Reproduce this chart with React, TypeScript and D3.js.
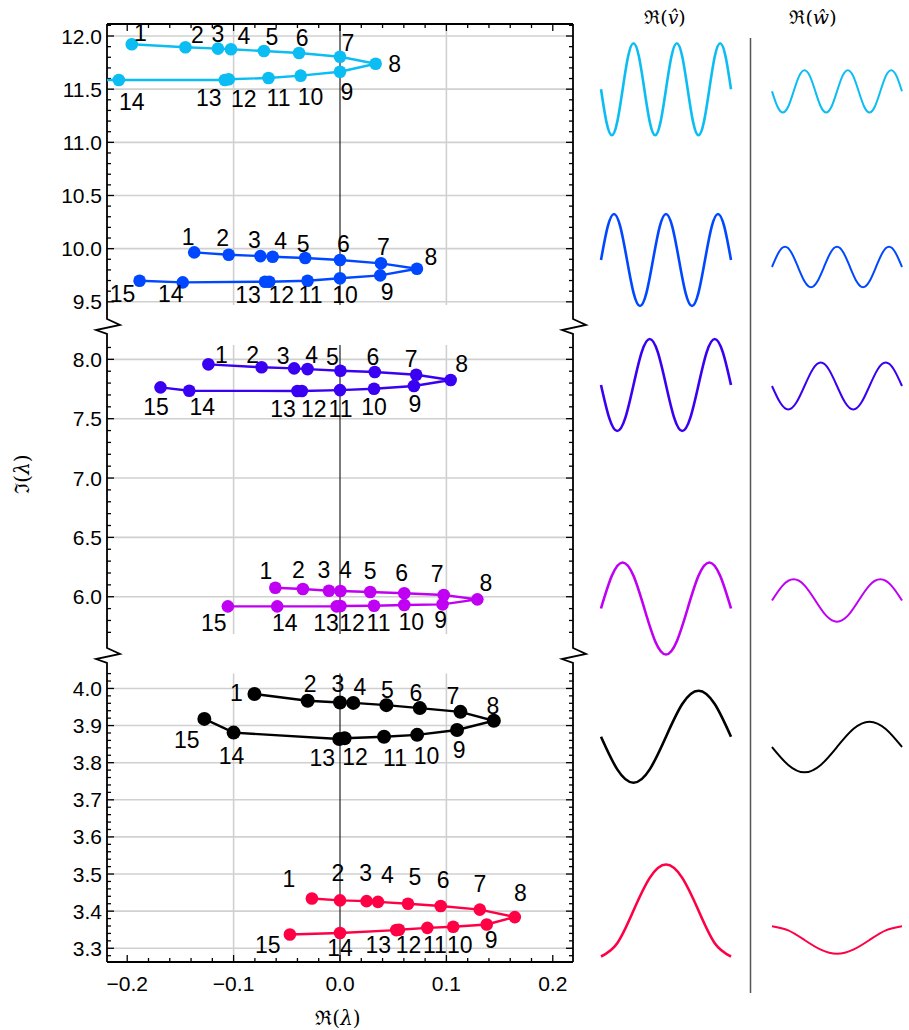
import React from "react";
import * as d3 from "d3";

// ---------------- data ----------------
const pointLabels = d3.range(1, 16).map(String);

const cyanRe = [-0.1957, -0.1453, -0.1147, -0.1025, -0.0715, -0.0385, 0.0, 0.0335, 0.0, -0.037, -0.0672, -0.1046, -0.1083, -0.2079, -0.26];
const cyanIm = [11.922, 11.894, 11.881, 11.875, 11.859, 11.84, 11.805, 11.739, 11.664, 11.627, 11.605, 11.593, 11.586, 11.586, 11.59];
const blueRe = [-0.137, -0.1046, -0.0748, -0.0633, -0.0327, 0.0, 0.0385, 0.0723, 0.0378, 0.0, -0.0305, -0.0665, -0.0705, -0.1478, -0.1884];
const blueIm = [9.965, 9.943, 9.93, 9.924, 9.912, 9.893, 9.862, 9.811, 9.749, 9.721, 9.698, 9.689, 9.689, 9.683, 9.698];
const indigoRe = [-0.1237, -0.0737, -0.0431, -0.0305, 0.0004, 0.0327, 0.0716, 0.104, 0.0695, 0.032, 0.0, -0.0359, -0.04, -0.1417, -0.1687];
const indigoIm = [7.958, 7.933, 7.924, 7.918, 7.904, 7.893, 7.87, 7.826, 7.775, 7.752, 7.741, 7.733, 7.733, 7.736, 7.764];
const purpleRe = [-0.0608, -0.0349, -0.0104, 0.0004, 0.0284, 0.0604, 0.0975, 0.1291, 0.0964, 0.0604, 0.032, 0.0004, -0.0032, -0.059, -0.1054];
const purpleIm = [6.076, 6.065, 6.051, 6.048, 6.04, 6.029, 6.014, 5.978, 5.936, 5.93, 5.924, 5.922, 5.919, 5.919, 5.919];
const blackRe = [-0.0804, -0.0304, 0.0, 0.0125, 0.0436, 0.075, 0.1132, 0.1446, 0.11, 0.0725, 0.0414, 0.0043, -0.0007, -0.1, -0.1275];
const blackIm = [3.985, 3.967, 3.962, 3.961, 3.955, 3.947, 3.937, 3.913, 3.888, 3.875, 3.87, 3.866, 3.864, 3.881, 3.918];
const redRe = [-0.0264, 0.0, 0.025, 0.0357, 0.0639, 0.0946, 0.1314, 0.1643, 0.1379, 0.1064, 0.0821, 0.0554, 0.0529, 0.0, -0.0471];
const redIm = [3.434, 3.429, 3.427, 3.425, 3.42, 3.414, 3.404, 3.384, 3.364, 3.358, 3.355, 3.35, 3.349, 3.341, 3.337];

// eigenfunction profiles (sampled every 1/8 period across the column)
const cyanV = [0, -0.71, -1, -0.71, 0, 0.71, 1, 0.71, 0, -0.71, -1, -0.71, 0, 0.71, 1, 0.71, 0, -0.71, -1, -0.71, 0, 0.71, 1, 0.71, 0];
const cyanW = [0, -0.33, -0.46, -0.33, 0, 0.33, 0.46, 0.33, 0, -0.33, -0.46, -0.33, 0, 0.33, 0.46, 0.33, 0, -0.33, -0.46, -0.33, 0, 0.33, 0.46, 0.33, 0];
const blueV = [0, 0.71, 1, 0.71, 0, -0.71, -1, -0.71, 0, 0.71, 1, 0.71, 0, -0.71, -1, -0.71, 0, 0.71, 1, 0.71, 0];
const blueW = [0, 0.31, 0.44, 0.31, 0, -0.31, -0.44, -0.31, 0, 0.31, 0.44, 0.31, 0, -0.31, -0.44, -0.31, 0, 0.31, 0.44, 0.31, 0];
const indigoV = [0, -0.71, -1, -0.71, 0, 0.71, 1, 0.71, 0, -0.71, -1, -0.71, 0, 0.71, 1, 0.71, 0];
const indigoW = [0, -0.36, -0.51, -0.36, 0, 0.36, 0.51, 0.36, 0, -0.36, -0.51, -0.36, 0, 0.36, 0.51, 0.36, 0];
const purpleV = [0, 0.71, 1, 0.71, 0, -0.71, -1, -0.71, 0, 0.71, 1, 0.71, 0];
const purpleW = [0, 0.33, 0.46, 0.33, 0, -0.33, -0.46, -0.33, 0, 0.33, 0.46, 0.33, 0];
const blackV = [0, -0.71, -1, -0.71, 0, 0.71, 1, 0.71, 0];
const blackW = [0, -0.39, -0.55, -0.39, 0, 0.39, 0.55, 0.39, 0];
const redV = [-1, -0.71, 0, 0.71, 1, 0.71, 0, -0.71, -1];
const redW = [0.3, 0.21, 0, -0.21, -0.3, -0.21, 0, 0.21, 0.3];

const xTicks = [-0.2, -0.1, 0.0, 0.1, 0.2];
const yTicksA = [9.5, 10.0, 10.5, 11.0, 11.5, 12.0];
const yTicksB = [6.0, 6.5, 7.0, 7.5, 8.0];
const yTicksC = [3.3, 3.4, 3.5, 3.6, 3.7, 3.8, 3.9, 4.0];

// ---------------- layout ----------------
const L = 107, R = 573, TOP = 24, BOTTOM = 962;
const x = d3.scaleLinear().domain([-0.219, 0.219]).range([L, R]);

const panels = [
  { key: "A", y: d3.scaleLinear().domain([9.47, 12.113]).range([305, TOP]), major: yTicksA, minorStep: 0.1 },
  { key: "B", y: d3.scaleLinear().domain([5.686, 8.12]).range([634, 345.1]), major: yTicksB, minorStep: 0.1 },
  { key: "C", y: d3.scaleLinear().domain([3.263, 4.04]).range([BOTTOM, 673.6]), major: yTicksC, minorStep: 0.02 },
];
const breaks = [325, 654];

// label offsets (px) relative to each marker
const offCyan = [[8.5, -11], [12, -12], [0, -15], [13, -13], [8, -14], [3, -15], [8, -14], [19, 0], [7, 20], [10, 21], [10, 20], [15, 20], [-16, 18], [13, 22], [-14, 18]];
const offBlue = [[-6, -15], [-6, -17], [-6, -16], [8, -16], [-2, -14], [3.5, -16], [2.5, -16.5], [14, -11.5], [7, 16.5], [5, 16.5], [3, 14.5], [12, 13.5], [-17, 13.5], [-12, 12], [-17, 13.5]];
const offIndigo = [[13, -9], [-9, -12], [-11, -12], [4, -14], [-8, -14], [-2, -15], [-5, -15.5], [11, -16], [1, 18], [0, 18.5], [0.5, 18.5], [12, 17.5], [-14.5, 17.5], [13, 16.5], [-4.5, 19.5]];
const offPurple = [[-9.5, -17], [-4.5, -19.5], [-5, -21], [5, -21], [0, -20.5], [-2.5, -20], [-6.5, -21.5], [8.5, -16.5], [-2, 15.5], [7, 17], [4.5, 17.5], [11.5, 17.5], [-10.5, 17], [7.5, 17], [-14, 17]];
const offBlack = [[-18, -1], [2.5, -16.5], [-2, -18.5], [6.5, -15.5], [1, -15], [-4, -15.5], [-7.5, -16], [-1, -15], [2, 20], [9.5, 21], [11, 21], [10.5, 19], [-17, 19], [-2, 23], [-17.5, 21.5]];
const offRed = [[-23, -20], [-2, -27], [-1, -28], [9.5, -26.5], [7, -26.5], [2.5, -26], [0, -26], [5.5, -24.5], [4.5, 15.5], [6.5, 18], [7.5, 17], [9.5, 15.5], [-18, 15], [0, 14.5], [-22, 10.5]];

const series = [
  { re: cyanRe, im: cyanIm, color: "#0bbdf2", panel: 0, off: offCyan, r: 6.3, v: cyanV, w: cyanW, cv: 89.2, cw: 91.3 },
  { re: blueRe, im: blueIm, color: "#0048ff", panel: 0, off: offBlue, r: 6.3, v: blueV, w: blueW, cv: 260, cw: 267 },
  { re: indigoRe, im: indigoIm, color: "#3a00f2", panel: 1, off: offIndigo, r: 6.3, v: indigoV, w: indigoW, cv: 385, cw: 386 },
  { re: purpleRe, im: purpleIm, color: "#c000f2", panel: 1, off: offPurple, r: 6.3, v: purpleV, w: purpleW, cv: 608.5, cw: 600.5 },
  { re: blackRe, im: blackIm, color: "#000000", panel: 2, off: offBlack, r: 7, v: blackV, w: blackW, cv: 736.7, cw: 747 },
  { re: redRe, im: redIm, color: "#ff0044", panel: 2, off: offRed, r: 6.3, v: redV, w: redW, cv: 910.5, cw: 940 },
];

const waveAmp = 46;
const waveXV = d3.scaleLinear().domain([0, 1]).range([601, 731]);
const waveXW = d3.scaleLinear().domain([0, 1]).range([772, 902]);

const fmt = d3.format(".1f");
const NUM_FONT = "'Liberation Sans', Arial, sans-serif";
const SERIF = "'DejaVu Serif', 'Liberation Serif', serif";

function spinePath(sx: number) {
  let p = `M${sx},${TOP}`;
  for (const b of breaks) {
    p += ` V${b - 6} L${sx + 13},${b} L${sx - 11},${b + 5} L${sx},${b + 9}`;
  }
  p += ` V${BOTTOM}`;
  return p;
}

function minorRange(lo: number, hi: number, step: number) {
  const out: number[] = [];
  const start = Math.ceil(lo / step - 1e-9);
  const end = Math.floor(hi / step + 1e-9);
  for (let i = start; i <= end; i++) out.push(+(i * step).toFixed(4));
  return out;
}

export default function App() {
  const xMinor = minorRange(-0.219, 0.219, 0.02);
  const waveLine = (xs: d3.ScaleLinear<number, number>, vals: number[], c: number) =>
    d3
      .line<number>()
      .x((_, i) => xs(i / (vals.length - 1)))
      .y((d) => c - d * waveAmp)
      .curve(d3.curveNatural)(vals) || "";

  return (
    <svg width={909} height={1030} style={{ position: "absolute", left: 0, top: 0, background: "#fff" }}>
      <defs>
        {panels.map((p) => (
          <clipPath id={`clip${p.key}`} key={p.key}>
            <rect x={L} y={p.y.range()[1]} width={R - L} height={p.y.range()[0] - p.y.range()[1]} />
          </clipPath>
        ))}
      </defs>

      {/* grid */}
      {panels.map((p) => {
        const [yb, yt] = p.y.range();
        return (
          <g key={`g${p.key}`}>
            {p.major.map((t) => (
              <line key={t} x1={L} x2={R} y1={p.y(t)} y2={p.y(t)} stroke="#d0d0d0" strokeWidth={1.6} />
            ))}
            {[-0.1, 0.1].map((t) => (
              <line key={t} x1={x(t)} x2={x(t)} y1={yt} y2={yb} stroke="#d0d0d0" strokeWidth={1.6} />
            ))}
            <line x1={x(0)} x2={x(0)} y1={yt} y2={yb} stroke="#222" strokeWidth={1.2} />
          </g>
        );
      })}

      {/* frame */}
      <path d={spinePath(L)} fill="none" stroke="#000" strokeWidth={1.8} />
      <path d={spinePath(R)} fill="none" stroke="#000" strokeWidth={1.8} />
      <line x1={L} x2={R} y1={TOP} y2={TOP} stroke="#000" strokeWidth={1.8} />
      <line x1={L} x2={R} y1={BOTTOM} y2={BOTTOM} stroke="#000" strokeWidth={1.8} />

      {/* x ticks */}
      {xMinor.map((t) => {
        const isMajor = xTicks.some((m) => Math.abs(m - t) < 1e-6);
        const len = isMajor ? 7 : 4;
        return (
          <g key={`xt${t}`}>
            <line x1={x(t)} x2={x(t)} y1={BOTTOM} y2={BOTTOM - len} stroke="#000" strokeWidth={1.3} />
            <line x1={x(t)} x2={x(t)} y1={TOP} y2={TOP + len} stroke="#000" strokeWidth={1.3} />
          </g>
        );
      })}
      {xTicks.map((t) => (
        <text key={`xl${t}`} x={x(t)} y={983} textAnchor="middle" dominantBaseline="central" fontFamily={NUM_FONT} fontSize={21}>
          {fmt(t)}
        </text>
      ))}

      {/* y ticks */}
      {panels.map((p) => {
        const [lo, hi] = p.y.domain();
        const minors = minorRange(lo, hi, p.minorStep);
        return (
          <g key={`yt${p.key}`}>
            {minors.map((t) => {
              const isMajor = p.major.some((m) => Math.abs(m - t) < 1e-6);
              const len = isMajor ? 7 : 4;
              return (
                <g key={t}>
                  <line x1={L} x2={L + len} y1={p.y(t)} y2={p.y(t)} stroke="#000" strokeWidth={1.3} />
                  <line x1={R} x2={R - len} y1={p.y(t)} y2={p.y(t)} stroke="#000" strokeWidth={1.3} />
                </g>
              );
            })}
            {p.major.map((t) => (
              <text key={`l${t}`} x={102} y={p.y(t)} textAnchor="end" dominantBaseline="central" fontFamily={NUM_FONT} fontSize={21}>
                {fmt(t)}
              </text>
            ))}
          </g>
        );
      })}

      {/* series */}
      {series.map((s, si) => {
        const p = panels[s.panel];
        const pts = s.re.map((r, i) => [x(r), p.y(s.im[i])] as [number, number]);
        const path = d3.line()(pts) || "";
        return (
          <g key={`s${si}`}>
            <g clipPath={`url(#clip${p.key})`}>
              <path d={path} fill="none" stroke={s.color} strokeWidth={2.4} />
              {pts.map(([px, py], i) => (
                <circle key={i} cx={px} cy={py} r={s.r} fill={s.color} />
              ))}
            </g>
            {pts.map(([px, py], i) =>
              px < L || px > R ? null : (
                <text
                  key={`t${i}`}
                  x={px + s.off[i][0]}
                  y={py + s.off[i][1]}
                  textAnchor="middle"
                  dominantBaseline="central"
                  fontFamily={NUM_FONT}
                  fontSize={23}
                >
                  {pointLabels[i]}
                </text>
              )
            )}
          </g>
        );
      })}

      {/* axis titles */}
      <text x={338} y={1018} textAnchor="middle" dominantBaseline="central" fontFamily={SERIF} fontSize={20}>
        ℜ(<tspan fontStyle="italic">λ</tspan>)
      </text>
      <text
        transform="translate(22,474) rotate(-90)"
        textAnchor="middle"
        dominantBaseline="central"
        fontFamily={SERIF}
        fontSize={20}
      >
        ℑ(<tspan fontStyle="italic">λ</tspan>)
      </text>

      {/* eigenfunction columns */}
      <text x={665} y={17} textAnchor="middle" dominantBaseline="central" fontFamily={SERIF} fontSize={19}>
        ℜ(<tspan fontStyle="italic">v̂</tspan>)
      </text>
      <text x={813} y={17} textAnchor="middle" dominantBaseline="central" fontFamily={SERIF} fontSize={19}>
        ℜ(<tspan fontStyle="italic">ŵ</tspan>)
      </text>
      <line x1={750.5} x2={750.5} y1={38} y2={993} stroke="#555" strokeWidth={1.5} />
      {series.map((s, si) => (
        <g key={`w${si}`}>
          <path d={waveLine(waveXV, s.v, s.cv)} fill="none" stroke={s.color} strokeWidth={2.6} />
          <path d={waveLine(waveXW, s.w, s.cw)} fill="none" stroke={s.color} strokeWidth={2} />
        </g>
      ))}
    </svg>
  );
}
